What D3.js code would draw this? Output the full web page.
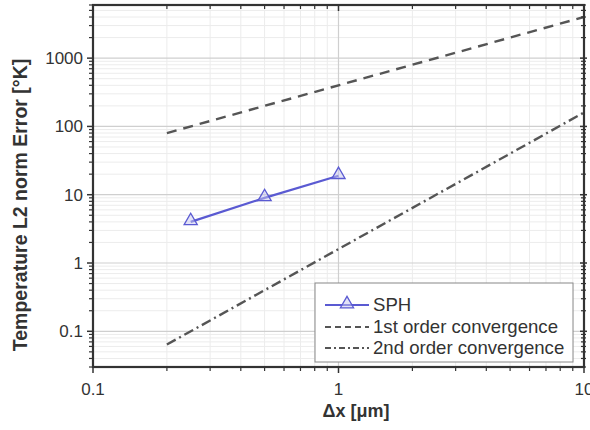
<!DOCTYPE html>
<html>
<head>
<meta charset="utf-8">
<script src="https://cdn.jsdelivr.net/npm/d3@7"></script>
<style>
  html, body { margin: 0; padding: 0; background: #fff; }
  svg { display: block; }
  text { font-family: "Liberation Sans", Arial, sans-serif; fill: #333; }
</style>
</head>
<body>
<svg id="chart" width="590" height="430"></svg>
<script>
// Convergence study: L2 error of temperature vs particle spacing
const sphDx = [0.25, 0.5, 1];
const sphErr = [4, 9, 19];

const refDx = [0.2, 10];
const firstOrder = [80, 4000];   // slope 1 reference
const secondOrder = [0.064, 160]; // slope 2 reference

const xTickValues = [0.1, 1, 10];
const xTickLabels = ["0.1", "1", "10"];
const yTickValues = [0.1, 1, 10, 100, 1000];
const yTickLabels = ["0.1", "1", "10", "100", "1000"];

const legendLabels = ["SPH", "1st order convergence", "2nd order convergence"];

const svg = d3.select("#chart");
const pLeft = 93, pRight = 584, pTop = 5, pBottom = 367;

const x = d3.scaleLog().domain([0.1, 10]).range([pLeft, pRight]);
const y = d3.scaleLog().domain([0.03, 6000]).range([pBottom, pTop]);

// minor positions (2..9 in every decade)
const xMinor = [];
for (let d = 0.1; d < 10; d *= 10) for (let k = 2; k <= 9; k++) xMinor.push(+(d * k).toPrecision(3));
const yMinor = [];
for (let d = 0.01; d < 10000; d *= 10) for (let k = 2; k <= 9; k++) {
  const v = +(d * k).toPrecision(3);
  if (v >= 0.03 && v <= 6000) yMinor.push(v);
}

const grid = svg.append("g");
grid.selectAll(".xm").data(xMinor).join("line")
  .attr("x1", d => x(d)).attr("x2", d => x(d)).attr("y1", pTop).attr("y2", pBottom)
  .attr("stroke", "#ececec").attr("stroke-width", 1);
grid.selectAll(".ym").data(yMinor).join("line")
  .attr("y1", d => y(d)).attr("y2", d => y(d)).attr("x1", pLeft).attr("x2", pRight)
  .attr("stroke", "#ececec").attr("stroke-width", 1);
grid.selectAll(".xM").data([1]).join("line")
  .attr("x1", d => x(d)).attr("x2", d => x(d)).attr("y1", pTop).attr("y2", pBottom)
  .attr("stroke", "#cfcfcf").attr("stroke-width", 1.2);
grid.selectAll(".yM").data(yTickValues).join("line")
  .attr("y1", d => y(d)).attr("y2", d => y(d)).attr("x1", pLeft).attr("x2", pRight)
  .attr("stroke", "#cfcfcf").attr("stroke-width", 1.2);

// reference lines
const line = d3.line().x(d => x(d[0])).y(d => y(d[1]));
svg.append("path").datum(d3.zip(refDx, firstOrder)).attr("d", line)
  .attr("fill", "none").attr("stroke", "#555").attr("stroke-width", 2.4)
  .attr("stroke-dasharray", "10,7");
svg.append("path").datum(d3.zip(refDx, secondOrder)).attr("d", line)
  .attr("fill", "none").attr("stroke", "#555").attr("stroke-width", 2.4)
  .attr("stroke-dasharray", "10,4,2,4");

// SPH series
const sphColor = "#5a5ad2";
svg.append("path").datum(d3.zip(sphDx, sphErr)).attr("d", line)
  .attr("fill", "none").attr("stroke", sphColor).attr("stroke-width", 2.2);
const tri = d3.symbol().type(d3.symbolTriangle).size(75);
svg.selectAll(".mk").data(d3.zip(sphDx, sphErr)).join("path")
  .attr("d", tri)
  .attr("transform", d => `translate(${x(d[0])},${y(d[1]) - 1})`)
  .attr("fill", "rgba(200,200,240,0.5)").attr("stroke", sphColor).attr("stroke-width", 1.3);

// axes frame and ticks
const axes = svg.append("g").attr("stroke", "#333");
axes.append("rect").attr("x", pLeft).attr("y", pTop).attr("width", pRight - pLeft).attr("height", pBottom - pTop)
  .attr("fill", "none").attr("stroke-width", 2.2);

axes.selectAll(".bt").data(xTickValues).join("line")
  .attr("x1", d => x(d)).attr("x2", d => x(d)).attr("y1", pBottom).attr("y2", pBottom + 6).attr("stroke-width", 1.5);
axes.selectAll(".btm").data(xMinor).join("line")
  .attr("x1", d => x(d)).attr("x2", d => x(d)).attr("y1", pBottom).attr("y2", pBottom + 4).attr("stroke-width", 1.2);
axes.selectAll(".tt").data(xTickValues).join("line")
  .attr("x1", d => x(d)).attr("x2", d => x(d)).attr("y1", pTop).attr("y2", pTop + 6).attr("stroke-width", 1.5);
axes.selectAll(".ttm").data(xMinor).join("line")
  .attr("x1", d => x(d)).attr("x2", d => x(d)).attr("y1", pTop).attr("y2", pTop + 4).attr("stroke-width", 1.2);

axes.selectAll(".lt").data(yTickValues).join("line")
  .attr("y1", d => y(d)).attr("y2", d => y(d)).attr("x1", pLeft - 6).attr("x2", pLeft).attr("stroke-width", 1.5);
axes.selectAll(".ltm").data(yMinor).join("line")
  .attr("y1", d => y(d)).attr("y2", d => y(d)).attr("x1", pLeft - 4).attr("x2", pLeft).attr("stroke-width", 1.2);
axes.selectAll(".rt").data(yTickValues).join("line")
  .attr("y1", d => y(d)).attr("y2", d => y(d)).attr("x1", pRight - 4).attr("x2", pRight + 3).attr("stroke-width", 1.5);
axes.selectAll(".rtm").data(yMinor).join("line")
  .attr("y1", d => y(d)).attr("y2", d => y(d)).attr("x1", pRight - 3).attr("x2", pRight + 2).attr("stroke-width", 1.2);

// tick labels
svg.selectAll(".xl").data(xTickValues).join("text")
  .attr("x", d => x(d)).attr("y", pBottom + 28).attr("text-anchor", "middle")
  .attr("font-size", 17).text((d, i) => xTickLabels[i]);
svg.selectAll(".yl").data(yTickValues).join("text")
  .attr("x", pLeft - 10).attr("y", d => y(d) + 6).attr("text-anchor", "end")
  .attr("font-size", 17).text((d, i) => yTickLabels[i]);

// axis titles
svg.append("text").attr("x", 356).attr("y", 417).attr("text-anchor", "middle")
  .attr("font-size", 18).attr("font-weight", "bold").text("Δx [μm]");
svg.append("text").attr("transform", "translate(27,205) rotate(-90)").attr("text-anchor", "middle")
  .attr("font-size", 19.5).attr("font-weight", "bold").text("Temperature L2 norm Error [°K]");

// legend
const lg = svg.append("g");
lg.append("rect").attr("x", 315).attr("y", 283).attr("width", 258).attr("height", 79)
  .attr("fill", "#fff").attr("stroke", "#888").attr("stroke-width", 1);
const rowY = [305, 327, 348];
const styles = [
  { stroke: sphColor, dash: null },
  { stroke: "#555", dash: "6,4" },
  { stroke: "#555", dash: "6,3,2,3" }
];
lg.selectAll(".ls").data(legendLabels).join("line")
  .attr("x1", 325).attr("x2", 369).attr("y1", (d, i) => rowY[i]).attr("y2", (d, i) => rowY[i])
  .attr("stroke", (d, i) => styles[i].stroke).attr("stroke-width", 2)
  .attr("stroke-dasharray", (d, i) => styles[i].dash);
lg.append("path").attr("d", tri).attr("transform", `translate(347,${rowY[0] - 1})`)
  .attr("fill", "rgba(200,200,240,0.5)").attr("stroke", sphColor).attr("stroke-width", 1.3);
lg.selectAll(".lt").data(legendLabels).join("text")
  .attr("x", 373).attr("y", (d, i) => rowY[i] + 6).attr("font-size", 18.6)
  .text(d => d);
</script>
</body>
</html>
